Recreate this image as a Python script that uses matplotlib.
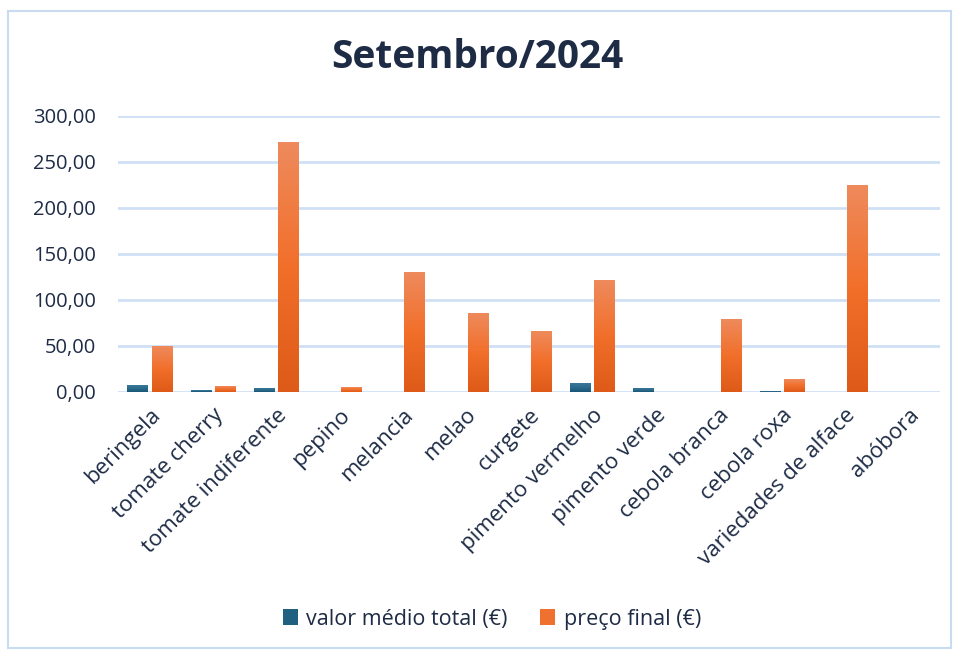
import numpy as np
import matplotlib
matplotlib.use("Agg")
import matplotlib.pyplot as plt
from matplotlib.colors import LinearSegmentedColormap
from matplotlib.patches import Rectangle
from matplotlib.ticker import FuncFormatter

# dados
categorias = ["beringela", "tomate cherry", "tomate indiferente", "pepino", "melancia",
              "melao", "curgete", "pimento vermelho", "pimento verde", "cebola branca",
              "cebola roxa", "variedades de alface", "abóbora"]
valor_medio = [7.6, 2.0, 3.3, 0.0, 0.0, 0.0, 0.0, 8.7, 3.3, 0.0, 1.0, 0.0, 0.0]
preco_final = [49.0, 6.5, 270.7, 5.4, 130.4, 84.8, 66.3, 121.7, 0.0, 79.3, 14.1, 225.0, 0.0]
serie_nomes = ["valor médio total (€)", "preço final (€)"]

plt.rcParams['font.family'] = ['Open Sans', 'DejaVu Sans']
texto = "#1d2b45"

cmap_azul = LinearSegmentedColormap.from_list("azul", ["#1a5676", "#2a6a8b", "#3a7898"])
cmap_laranja = LinearSegmentedColormap.from_list("laranja", ["#dd5a18", "#f26f2a", "#ee8a5c"])

fig = plt.figure(figsize=(9.55, 6.52), dpi=100)
ax = fig.add_axes([118 / 955, 1 - 392 / 652, (940 - 118) / 955, (392 - 116) / 652])

x = np.arange(len(categorias))
w = 0.32
b1 = ax.bar(x - w / 2 - 0.03, valor_medio, w, color="#1f5f80", label=serie_nomes[0], zorder=3)
b2 = ax.bar(x + w / 2 + 0.03, preco_final, w, color="#f07030", label=serie_nomes[1], zorder=3)

grad = np.linspace(0, 1, 100).reshape(-1, 1)
for barras, cm in ((b1, cmap_azul), (b2, cmap_laranja)):
    for p in barras:
        h = p.get_height()
        if h <= 0:
            continue
        x0 = p.get_x()
        ax.imshow(grad, extent=[x0, x0 + p.get_width(), 0, h], origin="lower",
                  aspect="auto", cmap=cm, zorder=4)

ax.set_xlim(-0.5, len(categorias) - 0.5)
ax.set_ylim(0, 300)
ax.set_yticks(np.arange(0, 301, 50))
ax.yaxis.set_major_formatter(FuncFormatter(lambda v, pos: f"{v:.2f}".replace(".", ",")))
ax.grid(axis="y", color="#cfe0f4", linewidth=2, zorder=0)
ax.set_axisbelow(True)
for s in ax.spines.values():
    s.set_visible(False)
ax.tick_params(axis="y", length=0, labelsize=14.5, colors=texto, pad=16)
ax.set_xticks(x)
ax.set_xticklabels(categorias, rotation=45, ha="right", va="top", rotation_mode="anchor")
ax.tick_params(axis="x", length=0, labelsize=16, colors=texto, pad=9)

fig.text(0.5, 1 - 58 / 652, "Setembro/2024", ha="center", va="center",
         fontsize=28, fontweight="bold", color=texto)

fig.legend(handles=[b1, b2], labels=serie_nomes, loc="center",
           bbox_to_anchor=(0.515, 1 - 619 / 652), ncol=2, frameon=False,
           fontsize=15.5, handlelength=0.7, handleheight=0.7, handletextpad=0.4,
           columnspacing=1.5, labelcolor=texto)

fig.patches.append(Rectangle((8 / 955, 1 - 648 / 652), 1 - 8 / 955 - 0.004, (648 - 11) / 652,
                             transform=fig.transFigure, fill=False,
                             edgecolor="#c8dbf0", linewidth=1.5))

fig.savefig("out.png", dpi=100)
